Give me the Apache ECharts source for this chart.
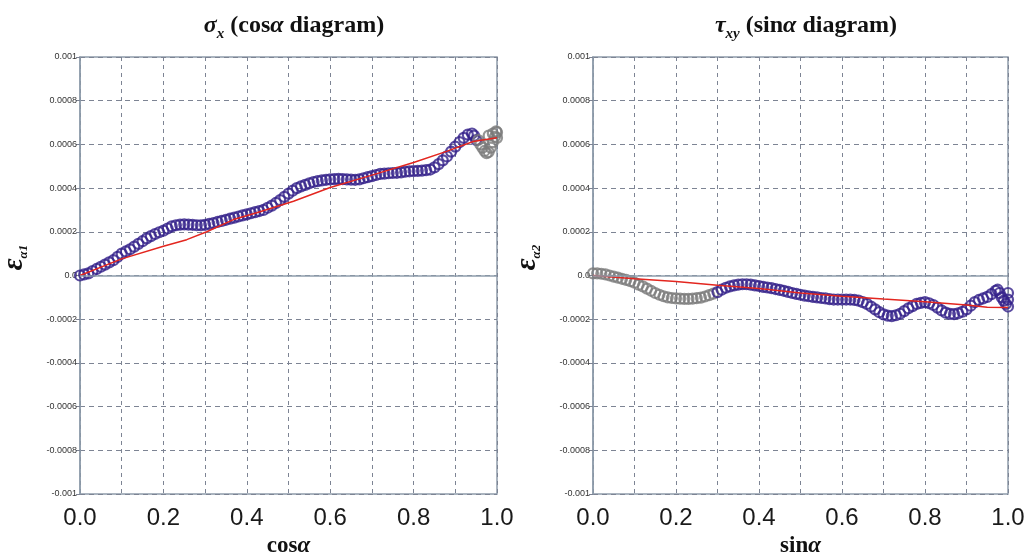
<!DOCTYPE html>
<html lang="en">
<head>
    <meta charset="UTF-8">
    <title>strain diagrams</title>
    <script src="https://cdn.jsdelivr.net/npm/echarts@6/dist/echarts.min.js"></script>
</head>
<body style="margin: 0">
<div id="chart" style="width: 1028px;height: 556px"></div>
<script>
// strain values are in units of 1e-4
const leftBlue = [[0.00, 0.0], [0.01, 0.05], [0.02, 0.1], [0.03, 0.2], [0.04, 0.3], [0.05, 0.4], [0.06, 0.5], [0.07, 0.6], [0.08, 0.7], [0.09, 0.85],
    [0.10, 1.0], [0.11, 1.1], [0.12, 1.2], [0.13, 1.32], [0.14, 1.45], [0.15, 1.57], [0.16, 1.7], [0.17, 1.8], [0.18, 1.9], [0.19, 1.98],
    [0.20, 2.05], [0.21, 2.15], [0.22, 2.25], [0.23, 2.3], [0.24, 2.33], [0.25, 2.34], [0.26, 2.33], [0.27, 2.32], [0.28, 2.3], [0.29, 2.3],
    [0.30, 2.32], [0.31, 2.36], [0.32, 2.4], [0.33, 2.45], [0.34, 2.5], [0.35, 2.55], [0.36, 2.6], [0.37, 2.65], [0.38, 2.7], [0.39, 2.75],
    [0.40, 2.8], [0.41, 2.85], [0.42, 2.9], [0.43, 2.95], [0.44, 3.0], [0.45, 3.1], [0.46, 3.2], [0.47, 3.32], [0.48, 3.45], [0.49, 3.6],
    [0.50, 3.75], [0.51, 3.88], [0.52, 4.0], [0.53, 4.08], [0.54, 4.15], [0.55, 4.22], [0.56, 4.28], [0.57, 4.32], [0.58, 4.35], [0.59, 4.38],
    [0.60, 4.4], [0.61, 4.41], [0.62, 4.42], [0.63, 4.41], [0.64, 4.4], [0.65, 4.39], [0.66, 4.38], [0.67, 4.4], [0.68, 4.45], [0.69, 4.5],
    [0.70, 4.55], [0.71, 4.6], [0.72, 4.65], [0.73, 4.66], [0.74, 4.68], [0.75, 4.69], [0.76, 4.7], [0.77, 4.72], [0.78, 4.75], [0.79, 4.77],
    [0.80, 4.78], [0.81, 4.79], [0.82, 4.8], [0.83, 4.82], [0.84, 4.85], [0.85, 4.95], [0.86, 5.1], [0.87, 5.27], [0.88, 5.45], [0.89, 5.67],
    [0.90, 5.9], [0.91, 6.1], [0.92, 6.3], [0.93, 6.45], [0.94, 6.5], [0.945, 6.4], [0.95, 6.2]]
const leftGray = [[0.955, 6.2], [0.96, 6.0], [0.965, 5.85], [0.97, 5.7], [0.975, 5.6], [0.98, 5.65], [0.985, 5.85], [0.99, 6.1],
    [0.995, 6.35], [1.0, 6.55], [1.0, 6.3], [0.998, 6.6], [0.99, 6.5], [0.98, 6.4]]
const leftRed = [[0, 0], [0.1, 0.76], [0.2, 1.34], [0.256, 1.64], [0.304, 2.0], [0.368, 2.56], [0.424, 2.87], [0.512, 3.4],
    [0.6, 4.03], [0.696, 4.57], [0.8, 5.17], [0.879, 5.68], [0.943, 6.13], [1.0, 6.3]]

const rightGray = [[0.00, 0.1], [0.01, 0.1], [0.02, 0.08], [0.03, 0.05], [0.04, 0.0], [0.05, -0.05], [0.06, -0.1], [0.07, -0.15], [0.08, -0.2], [0.09, -0.26],
    [0.10, -0.33], [0.11, -0.42], [0.12, -0.5], [0.13, -0.6], [0.14, -0.7], [0.15, -0.8], [0.16, -0.88], [0.17, -0.95], [0.18, -1.0], [0.19, -1.03],
    [0.20, -1.05], [0.21, -1.06], [0.22, -1.07], [0.23, -1.07], [0.24, -1.06], [0.25, -1.04], [0.26, -1.01], [0.27, -0.96], [0.28, -0.9], [0.29, -0.83]]
const rightBlue = [[0.30, -0.76], [0.31, -0.65], [0.32, -0.56], [0.33, -0.5], [0.34, -0.45], [0.35, -0.42], [0.36, -0.4], [0.37, -0.4], [0.38, -0.42], [0.39, -0.45],
    [0.40, -0.48], [0.41, -0.52], [0.42, -0.55], [0.43, -0.58], [0.44, -0.62], [0.45, -0.66], [0.46, -0.7], [0.47, -0.75], [0.48, -0.8], [0.49, -0.84],
    [0.50, -0.88], [0.51, -0.92], [0.52, -0.95], [0.53, -0.98], [0.54, -1.0], [0.55, -1.03], [0.56, -1.05], [0.57, -1.08], [0.58, -1.1], [0.59, -1.1],
    [0.60, -1.1], [0.61, -1.1], [0.62, -1.1], [0.63, -1.12], [0.64, -1.15], [0.65, -1.22], [0.66, -1.3], [0.67, -1.42], [0.68, -1.55], [0.69, -1.68],
    [0.70, -1.78], [0.71, -1.84], [0.72, -1.86], [0.73, -1.82], [0.74, -1.75], [0.75, -1.63], [0.76, -1.5], [0.77, -1.4], [0.78, -1.3], [0.79, -1.25],
    [0.80, -1.22], [0.81, -1.27], [0.82, -1.35], [0.83, -1.47], [0.84, -1.6], [0.85, -1.7], [0.86, -1.76], [0.87, -1.77], [0.88, -1.73], [0.89, -1.66],
    [0.90, -1.55], [0.91, -1.38], [0.92, -1.22], [0.93, -1.12], [0.94, -1.05], [0.95, -0.98], [0.96, -0.85], [0.97, -0.7], [0.975, -0.65], [0.98, -0.8],
    [0.985, -1.0], [0.99, -1.15], [0.995, -1.3], [1.0, -1.42], [1.0, -1.1], [1.0, -0.8]]
const rightRed = [[0, 0], [0.1, -0.15], [0.2, -0.27], [0.3, -0.45], [0.4, -0.6], [0.5, -0.8], [0.6, -0.95], [0.7, -1.08],
    [0.8, -1.2], [0.9, -1.35], [0.95, -1.45], [1.0, -1.47]]

const xTickLabels = ['0.0', '0.2', '0.4', '0.6', '0.8', '1.0']

const gridColor = '#7d8494'
const frameColor = '#8e9cab'
const blue = '#33208a'
const serif = '"Liberation Serif", "DejaVu Serif", serif'

function xAxisOf(gridIndex, fn) {
    return {
        type: 'value', gridIndex: gridIndex, min: 0, max: 1, interval: 0.1,
        axisLine: {show: false}, axisTick: {show: false},
        splitLine: {lineStyle: {color: gridColor, type: [4, 4], width: 1}},
        axisLabel: {
            fontSize: 24, color: '#1a1a1a', fontFamily: 'Liberation Sans, Arial', margin: 12,
            formatter: v => {
                const k = Math.round(v * 10)
                return k % 2 === 0 ? xTickLabels[k / 2] : ''
            }
        },
        name: '{n|' + fn + '}{a|α}', nameLocation: 'middle', nameGap: 40,
        nameTextStyle: {
            rich: {
                n: {fontFamily: serif, fontWeight: 'bold', fontSize: 23, color: '#111'},
                a: {fontFamily: serif, fontWeight: 'bold', fontStyle: 'italic', fontSize: 23, color: '#111'}
            }
        }
    }
}

function yAxisOf(gridIndex, sub) {
    return {
        type: 'value', gridIndex: gridIndex, min: -10, max: 10, interval: 2,
        axisLine: {show: true, lineStyle: {color: frameColor, width: 1.5}},
        axisTick: {show: true, length: 4, lineStyle: {color: gridColor}},
        splitLine: {lineStyle: {color: gridColor, type: [5, 4], width: 1}},
        axisLabel: {
            fontSize: 9, color: '#333', fontFamily: 'Liberation Sans, Arial', margin: 3, hideOverlap: false,
            formatter: v => v === 0 ? '0.0' : String(v / 10000)
        },
        name: '{e|ε}{s|' + sub + '}', nameLocation: 'middle', nameRotate: 90, nameGap: 50,
        nameTextStyle: {
            padding: [0, 0, 0, 36],
            rich: {
                e: {fontFamily: serif, fontWeight: 'bold', fontStyle: 'italic', fontSize: 29, color: '#111', lineHeight: 30},
                s: {fontFamily: serif, fontWeight: 'bold', fontStyle: 'italic', fontSize: 13, color: '#111', lineHeight: 30, verticalAlign: 'bottom'}
            }
        }
    }
}

function circles(data, color, idx) {
    return {
        type: 'scatter', data: data, xAxisIndex: idx, yAxisIndex: idx,
        symbol: 'circle', symbolSize: 10, silent: true, z: 3,
        itemStyle: {color: 'rgba(0,0,0,0)', borderColor: color, borderWidth: 2.2}
    }
}

function redLine(data, idx) {
    return {
        type: 'line', data: data, xAxisIndex: idx, yAxisIndex: idx,
        symbol: 'none', silent: true, z: 4,
        lineStyle: {color: '#e3261f', width: 1.5},
        markLine: {
            silent: true, symbol: 'none', label: {show: false},
            lineStyle: {color: frameColor, type: 'solid', width: 1.5},
            data: [{yAxis: 0}]
        }
    }
}

function titleOf(left, head, sub, fn) {
    return {
        left: left, top: 5, textAlign: 'center',
        text: '{h|' + head + '}{s|' + sub + '}{n| (' + fn + '}{a|α}{n| diagram)}',
        textStyle: {
            rich: {
                h: {fontFamily: serif, fontStyle: 'italic', fontWeight: 'bold', fontSize: 24, color: '#111', lineHeight: 32},
                s: {fontFamily: serif, fontStyle: 'italic', fontWeight: 'bold', fontSize: 15, color: '#111', lineHeight: 32, verticalAlign: 'bottom'},
                n: {fontFamily: serif, fontWeight: 'bold', fontSize: 24, color: '#111', lineHeight: 32},
                a: {fontFamily: serif, fontStyle: 'italic', fontWeight: 'bold', fontSize: 24, color: '#111', lineHeight: 32}
            }
        }
    }
}

const myChart = echarts.init(document.getElementById('chart'))
const option = {
    backgroundColor: '#fff',
    animation: false,
    title: [titleOf(289, 'σ', 'x', 'cos'), titleOf(801, 'τ', 'xy', 'sin')],
    grid: [
        {left: 80, top: 57, width: 417, height: 437, show: true, borderColor: frameColor, borderWidth: 1.5, outerBoundsMode: 'none', containLabel: false},
        {left: 593, top: 57, width: 415, height: 437, show: true, borderColor: frameColor, borderWidth: 1.5, outerBoundsMode: 'none', containLabel: false}
    ],
    xAxis: [xAxisOf(0, 'cos'), xAxisOf(1, 'sin')],
    yAxis: [yAxisOf(0, 'α1'), yAxisOf(1, 'α2')],
    series: [
        circles(leftBlue, blue, 0),
        circles(leftGray, '#7a7a7a', 0),
        redLine(leftRed, 0),
        circles(rightGray, '#7a7a7a', 1),
        circles(rightBlue, blue, 1),
        redLine(rightRed, 1)
    ]
}
myChart.setOption(option)
</script>
</body>
</html>
